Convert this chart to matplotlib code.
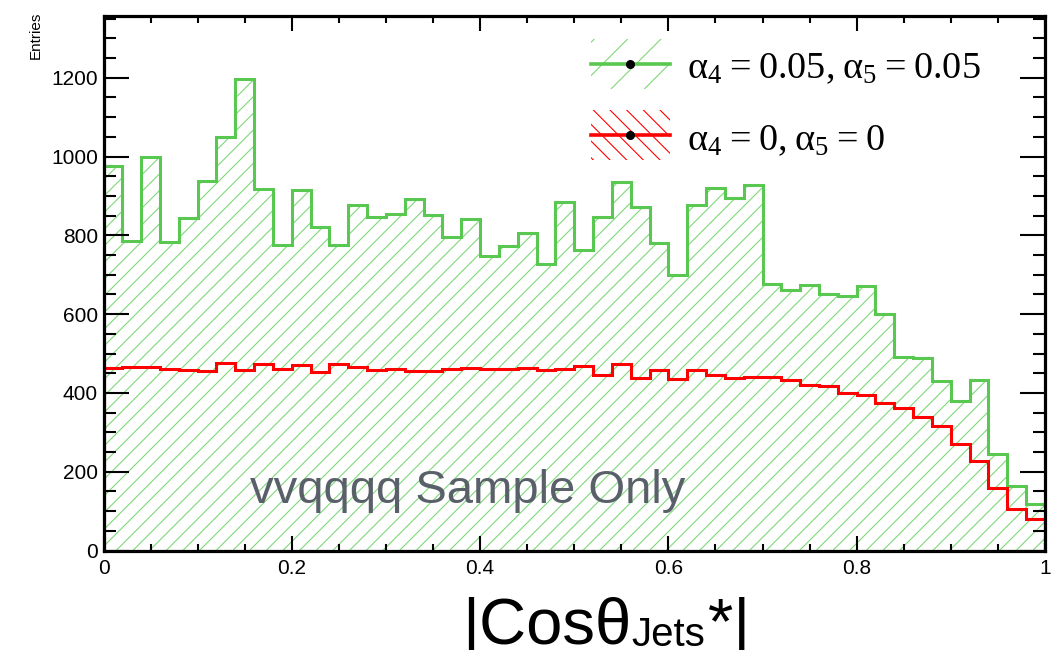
import numpy as np
import matplotlib
matplotlib.use("Agg")
import matplotlib.pyplot as plt
from matplotlib.patches import Rectangle
from matplotlib.lines import Line2D
from matplotlib.ticker import MultipleLocator

plt.rcParams['font.family'] = ['Liberation Sans', 'DejaVu Sans']
plt.rcParams['hatch.linewidth'] = 0.8

W, H = 1052, 650

# |cos theta*| of the jets, 50 bins on [0, 1]
bin_edges = np.linspace(0.0, 1.0, 51)

entries_a005 = [977, 785, 998, 782, 843, 939, 1049, 1197, 917, 775,
                914, 822, 775, 877, 847, 853, 891, 851, 797, 841,
                747, 774, 805, 726, 885, 764, 846, 936, 871, 780,
                699, 877, 919, 894, 929, 677, 662, 674, 652, 645,
                671, 600, 492, 488, 431, 380, 433, 245, 164, 117]

entries_sm = [464, 465, 466, 461, 458, 456, 475, 459, 473, 462,
              470, 453, 474, 467, 458, 461, 456, 455, 461, 464,
              462, 462, 464, 458, 461, 469, 445, 474, 437, 458,
              435, 459, 445, 439, 441, 441, 434, 420, 418, 401,
              396, 375, 363, 340, 316, 270, 228, 160, 105, 79]

label_a005 = r'$\mathregular{α_4 = 0.05, α_5 = 0.05}$'
label_sm = r'$\mathregular{α_4 = 0, α_5 = 0}$'

GREEN = '#58c850'
GREEN_HATCH = '#7fd878'
RED = '#ff0000'


def fpos(x, y):
    """pixel position (from top-left) -> figure fraction"""
    return x / W, 1 - y / H


fig = plt.figure(figsize=(W / 100, H / 100), dpi=100)
ax = fig.add_axes([0.0984, 0.153, 0.8949, 0.8226])

# hatched area, then outline, then the SM curve on top
ax.stairs(entries_a005, bin_edges, fill=True, facecolor='none',
          edgecolor=GREEN_HATCH, hatch='//', linewidth=0)
ax.stairs(entries_a005, bin_edges, baseline=0, color=GREEN, linewidth=2.2)
ax.stairs(entries_sm, bin_edges, baseline=0, color=RED, linewidth=2.2)

ax.set_xlim(0, 1)
ax.set_ylim(0, 1357)

ax.xaxis.set_minor_locator(MultipleLocator(0.05))
ax.yaxis.set_major_locator(MultipleLocator(200))
ax.yaxis.set_minor_locator(MultipleLocator(50))
ax.set_xticks(np.arange(0, 1.01, 0.2))
ax.set_xticklabels(['0', '0.2', '0.4', '0.6', '0.8', '1'])

ax.tick_params(which='both', direction='in', top=True, right=True,
               width=1.5, labelsize=15)
ax.tick_params(axis='x', which='major', length=11, pad=6)
ax.tick_params(axis='x', which='minor', length=5)
ax.tick_params(axis='y', which='major', length=18, pad=4)
ax.tick_params(axis='y', which='minor', length=8.6)
for sp in ax.spines.values():
    sp.set_linewidth(2.3)

fig.text(*fpos(36, 12), 'Entries', rotation=90,
         ha='center', va='top', fontsize=11)

fig.text(*fpos(250, 503), 'vvqqqq Sample Only', fontsize=34,
         color='#596069', ha='left', va='baseline')

# x title: |Cos theta_Jets *| built from three pieces
renderer = fig.canvas.get_renderer()
inv = fig.transFigure.inverted()
t1 = fig.text(*fpos(462, 644), '|Cosθ', fontsize=47, va='baseline')
x1 = inv.transform(t1.get_window_extent(renderer))[1][0]
t2 = fig.text(x1, fpos(0, 646)[1], 'Jets', fontsize=29, va='baseline')
x2 = inv.transform(t2.get_window_extent(renderer))[1][0]
fig.text(x2 + 3 / W, fpos(0, 644)[1], '*|', fontsize=47, va='baseline')

# legend keys: hatched box with line and dot
legend_rows = [(label_a005, GREEN, GREEN_HATCH, '/', 39, 78),
               (label_sm, RED, RED, '\\\\', 110, 150)]
for label, lc, hc, hatch, top, base in legend_rows:
    x0, y0 = fpos(590.7, top + 50)
    fig.add_artist(Rectangle((x0, y0), 79.3 / W, 50 / H,
                             transform=fig.transFigure, facecolor='none',
                             edgecolor=hc, hatch=hatch, linewidth=0))
    ymid = fpos(0, top + 25)[1]
    fig.add_artist(Line2D([590.7 / W, 670 / W], [ymid, ymid],
                          transform=fig.transFigure, color=lc, linewidth=2.6))
    fig.add_artist(Line2D([630 / W], [ymid], transform=fig.transFigure,
                          marker='o', markersize=5.5, color='black'))
    fig.text(*fpos(687, base), label, family='Liberation Serif',
             fontsize=27.5, va='baseline')

fig.savefig('out.png', dpi=100)
